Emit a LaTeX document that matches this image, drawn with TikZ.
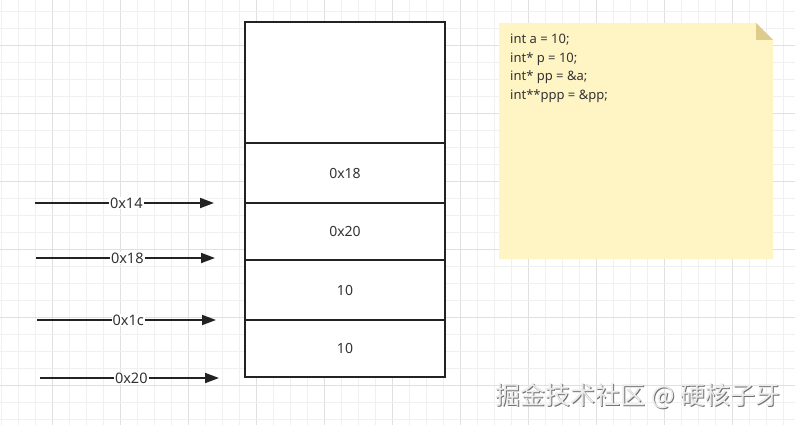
\documentclass[tikz,border=0pt]{standalone}
\usepackage{fontspec}
\setmainfont{Noto Sans}
\newfontfamily\cjk{Noto Sans CJK SC}
\usetikzlibrary{arrows.meta}
\definecolor{gridminor}{RGB}{240,240,240}
\definecolor{gridmajor}{RGB}{224,224,224}
\definecolor{ink}{RGB}{34,34,34}
\definecolor{txt}{RGB}{51,51,51}
\definecolor{notefill}{RGB}{255,244,195}
\definecolor{notefold}{RGB}{222,204,140}
\tikzset{
  cell/.style={draw=ink, line width=2pt, minimum width=200pt, inner sep=0pt, font=\fontsize{14}{16}\selectfont, text=txt},
  addrarrow/.style={draw=ink, line width=1.8pt, -{Triangle[length=14pt,width=10pt]}},
  addrlabel/.style={fill=white, inner sep=1pt, font=\fontsize{14.5}{16}\selectfont, text=txt},
}
\begin{document}
\begin{tikzpicture}[x=1pt,y=-1pt]
\useasboundingbox (0,0) rectangle (795,425);
\fill[white] (0,0) rectangle (795,425);
% grid
\foreach \i in {0,...,47} {
  \pgfmathsetmacro\xx{1+17*\i}
  \pgfmathtruncatemacro\m{mod(\i,4)}
  \ifnum\m=3 \draw[gridmajor,line width=0.9pt] (\xx,0) -- (\xx,425);
  \else \draw[gridminor,line width=0.8pt] (\xx,0) -- (\xx,425); \fi
}
\foreach \i in {0,...,25} {
  \pgfmathsetmacro\yy{11+17*\i}
  \pgfmathtruncatemacro\m{mod(\i,4)}
  \ifnum\m=2 \draw[gridmajor,line width=0.9pt] (0,\yy) -- (795,\yy);
  \else \draw[gridminor,line width=0.8pt] (0,\yy) -- (795,\yy); \fi
}
% memory stack
\node[cell, fill=white, minimum height=121pt] (top) at (345,82.5) {};
\node[cell, fill=white, minimum height=60pt] (c1) at (345,173) {0x18};
\node[cell, fill=white, minimum height=57pt] (c2) at (345,231.5) {0x20};
\node[cell, fill=white, minimum height=60pt] (c3) at (345,290) {10};
\node[cell, fill=white, minimum height=57pt] (c4) at (345,348.5) {10};
% address arrows
\coordinate (s1) at (35,203);  \coordinate (e1) at (214,203);
\coordinate (s2) at (36,258);  \coordinate (e2) at (215,258);
\coordinate (s3) at (37,320);  \coordinate (e3) at (216,320);
\coordinate (s4) at (40,378);  \coordinate (e4) at (219,378);
\draw[addrarrow] (s1) -- node[addrlabel, pos=0.51] (l1) {0x14} (e1);
\draw[addrarrow] (s2) -- node[addrlabel, pos=0.51] (l2) {0x18} (e2);
\draw[addrarrow] (s3) -- node[addrlabel, pos=0.51] (l3) {0x1c} (e3);
\draw[addrarrow] (s4) -- node[addrlabel, pos=0.51] (l4) {0x20} (e4);
% note
\fill[notefill] (499,23) -- (756,23) -- (773,40) -- (773,259) -- (499,259) -- cycle;
\fill[notefold] (756,23) -- (773,40) -- (756,40) -- cycle;
\node[anchor=north west, align=left, inner sep=0pt, text=txt, font=\fontsize{13}{18.5}\selectfont] (code) at (510,34)
  {int a = 10;\\int* p = 10;\\int* pp = \&a;\\int**ppp = \&pp;};
% watermark
\node[text=black!55, font=\cjk\fontsize{25}{27}\selectfont] (wmshadow) at (639.2,397.2) {掘金技术社区 @ 硬核子牙};
\node[text=white!92!black, font=\cjk\fontsize{25}{27}\selectfont] (wm) at (638,396) {掘金技术社区 @ 硬核子牙};
\end{tikzpicture}
\end{document}
